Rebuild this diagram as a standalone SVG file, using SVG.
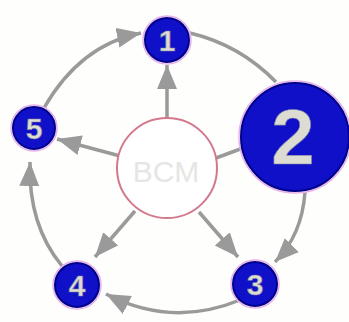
<svg xmlns="http://www.w3.org/2000/svg" width="349" height="322" viewBox="0 0 349 322">
<defs>
<marker id="ah" markerUnits="userSpaceOnUse" markerWidth="28" markerHeight="22" refX="24" refY="10" orient="auto">
<path d="M0,0 L24,10 L0,20 z" fill="#9a9a9a"/>
</marker>
<style>
.c{fill:none;stroke:#9a9a9a;stroke-width:3.5}
.a{marker-end:url(#ah)}
.n{fill:#1010c8;stroke:#00008a;stroke-width:2}
.h{fill:none;stroke:#e8b0e8;stroke-width:1.5}
.t{font-family:"Liberation Sans",Arial,sans-serif;font-weight:bold;fill:#dcdcd2;stroke:#8080a0;stroke-width:0.6;text-anchor:middle}
</style>
</defs>
<rect width="349" height="322" fill="#fefefc"/>
<g id="connectors">
<path class="c" d="M216,158 L243,148"/>
<path class="c" d="M190,33 Q240,45 276,82"/>
<path class="c a" d="M167,118 L167,65"/>
<path class="c a" d="M120,156 L57,139"/>
<path class="c a" d="M135,211 L95,257"/>
<path class="c a" d="M199,212 L238,257"/>
<path class="c a" d="M44,108 Q80,45 141,33"/>
<path class="c a" d="M305,192 Q302,235 275,262"/>
<path class="c a" d="M240,300 Q172,328 106,294"/>
<path class="c a" d="M62,266 Q28,225 30,162"/>
</g>
<g id="bcm">
<circle cx="167" cy="168" r="50" fill="#ffffff" stroke="#d4788c" stroke-width="2"/>
<text x="166" y="182" font-family="Liberation Sans,Arial,sans-serif" font-size="30" fill="#e6e6e4" text-anchor="middle">BCM</text>
</g>
<g id="n1">
<circle class="h" cx="167" cy="40" r="24"/>
<circle class="n" cx="167" cy="40" r="22"/>
<text class="t" x="167" y="51" font-size="30">1</text>
</g>
<g id="n2">
<circle class="h" cx="295" cy="137" r="56"/>
<circle class="n" cx="295" cy="137" r="54"/>
<text class="t" x="293" y="164" font-size="78" stroke-width="1">2</text>
</g>
<g id="n3">
<circle class="h" cx="255" cy="284" r="24"/>
<circle class="n" cx="255" cy="284" r="22"/>
<text class="t" x="255" y="295" font-size="30">3</text>
</g>
<g id="n4">
<circle class="h" cx="77" cy="285" r="24"/>
<circle class="n" cx="77" cy="285" r="22"/>
<text class="t" x="77" y="296" font-size="30">4</text>
</g>
<g id="n5">
<circle class="h" cx="34" cy="128" r="23"/>
<circle class="n" cx="34" cy="128" r="21"/>
<text class="t" x="34" y="139" font-size="30">5</text>
</g>
</svg>
